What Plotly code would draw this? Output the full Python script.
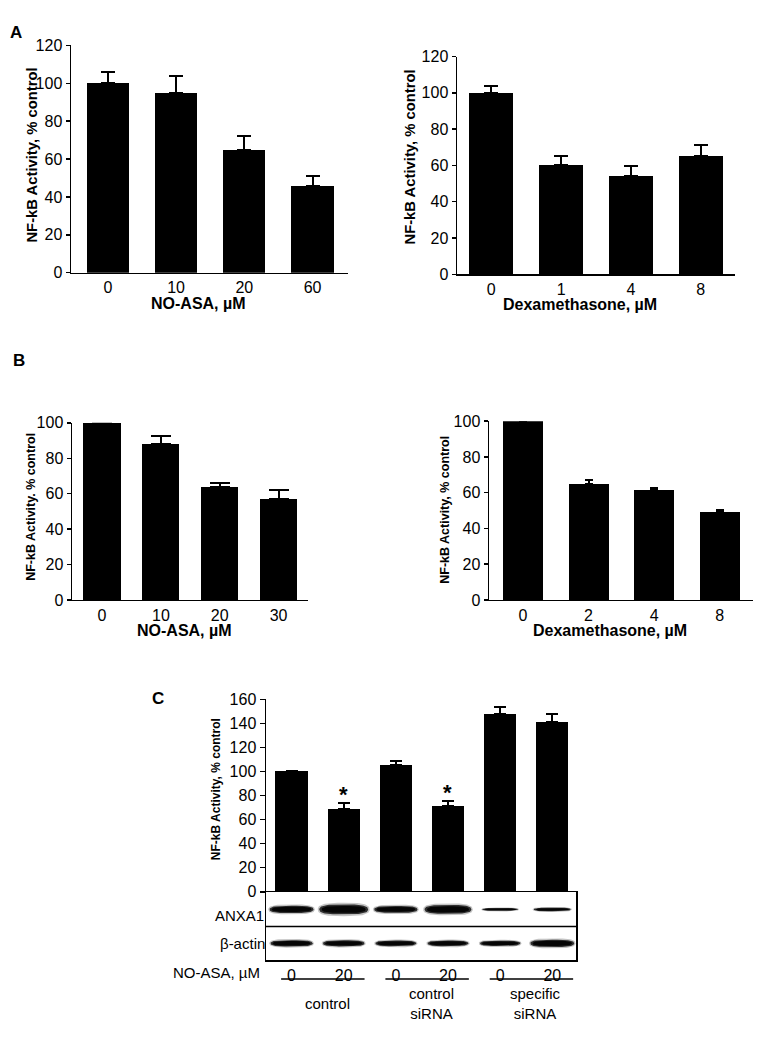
import plotly.graph_objects as go
import math

W, H = 774, 1050
FONT = "Arial, Liberation Sans, sans-serif"

# ---------------- data ----------------
a1_cats = ["0", "10", "20", "60"]
a1_vals = [100, 95, 65, 46]
a1_err = [6, 9, 7, 5]

a2_cats = ["0", "1", "4", "8"]
a2_vals = [100, 60, 54, 65]
a2_err = [4, 5, 5.5, 6.5]

b1_cats = ["0", "10", "20", "30"]
b1_vals = [100, 88, 64, 57]
b1_err = [0, 4.5, 2, 5]

b2_cats = ["0", "2", "4", "8"]
b2_vals = [100, 65, 61.5, 49]
b2_err = [0, 2, 1, 1.5]

c_doses = ["0", "20", "0", "20", "0", "20"]
c_vals = [100, 69, 105, 71, 148, 141]
c_err = [0, 5, 4, 4.5, 6, 7]
c_sig = [False, True, False, True, False, False]
c_groups = ["control", "control<br>siRNA", "specific<br>siRNA"]

# relative band signal in the western blot
anxa1_signal = [1.0, 1.35, 0.95, 1.2, 0.4, 0.5]
actin_signal = [1.0, 0.95, 0.9, 0.9, 0.85, 1.15]


def px(x):
    return x / W


def py(y):
    return 1 - y / H


fig = go.Figure()

panels = [
    dict(i=1, cats=a1_cats, vals=a1_vals, err=a1_err, l=71, r=348, y0=269, yt=38, ymax=120,
         xr=[-0.54, 3.52], bw=0.62, cap=7, yt_text="NF-kB Activity, % control", ytp=(32, 150),
         xt_text="NO-ASA, µM", xtp=(198, 300), ysz=14.8),
    dict(i=2, cats=a2_cats, vals=a2_vals, err=a2_err, l=457, r=735, y0=270.7, yt=49.3, ymax=120,
         xr=[-0.49, 3.49], bw=0.63, cap=7, yt_text="NF-kB Activity, % control", ytp=(410, 152),
         xt_text="Dexamethasone, µM", xtp=(580, 301), ysz=14.8),
    dict(i=3, cats=b1_cats, vals=b1_vals, err=b1_err, l=72, r=308, y0=601.7, yt=421.7, ymax=100,
         xr=[-0.51, 3.5], bw=0.63, cap=10, yt_text="NF-kB Activity. % control", ytp=(31, 507),
         xt_text="NO-ASA, µM", xtp=(184, 633), ysz=12.5),
    dict(i=4, cats=b2_cats, vals=b2_vals, err=b2_err, l=489, r=753, y0=601.7, yt=420, ymax=100,
         xr=[-0.52, 3.51], bw=0.61, cap=4, yt_text="NF-kB Activity, % control", ytp=(445, 510),
         xt_text="Dexamethasone, µM", xtp=(610, 633), ysz=12.5),
]

annotations = []
shapes = []

for p in panels:
    i = p["i"]
    xa = "x" if i == 1 else f"x{i}"
    ya = "y" if i == 1 else f"y{i}"
    n = len(p["cats"])
    fig.add_trace(go.Bar(
        x=list(range(n)), y=p["vals"], width=p["bw"], xaxis=xa, yaxis=ya,
        marker=dict(color="black", line=dict(width=0)),
        error_y=dict(type="data", symmetric=False, array=p["err"], arrayminus=[0] * n,
                     color="black", thickness=2, width=p["cap"]),
        hoverinfo="skip"))
    key = "" if i == 1 else str(i)
    fig.layout["xaxis" + key] = dict(
        domain=[px(p["l"]), px(p["r"])], range=p["xr"], anchor=ya,
        tickvals=list(range(n)), ticktext=p["cats"], ticks="", showline=True,
        linecolor="black", linewidth=1.5, showgrid=False, zeroline=False,
        tickfont=dict(family=FONT, size=16, color="black"), fixedrange=True)
    fig.layout["yaxis" + key] = dict(
        domain=[py(p["y0"]), py(p["yt"])], range=[0, p["ymax"]], anchor=xa,
        dtick=20, ticks="outside", ticklen=4, tickwidth=1.5, tickcolor="black",
        showline=True, linecolor="black", linewidth=1.5, showgrid=False, zeroline=False,
        tickfont=dict(family=FONT, size=16, color="black"), fixedrange=True)
    annotations.append(dict(
        text=p["yt_text"], x=px(p["ytp"][0]), y=py(p["ytp"][1]), xref="paper", yref="paper",
        textangle=-90, showarrow=False, xanchor="center", yanchor="middle",
        font=dict(family=FONT, size=p["ysz"], color="black", weight="bold")))
    annotations.append(dict(
        text=p["xt_text"], x=px(p["xtp"][0]), y=py(p["xtp"][1]), xref="paper", yref="paper",
        showarrow=False, xanchor="center", yanchor="middle",
        font=dict(family=FONT, size=16, color="black", weight="bold")))

# ---------------- panel C ----------------
C_L, C_R = 266, 576
C_XR = [-0.49, 5.455]
nC = len(c_vals)
fig.add_trace(go.Bar(
    x=list(range(nC)), y=c_vals, width=0.62, xaxis="x5", yaxis="y5",
    marker=dict(color="black", line=dict(width=0)),
    error_y=dict(type="data", symmetric=False, array=c_err, arrayminus=[0] * nC,
                 color="black", thickness=2, width=6),
    hoverinfo="skip"))
fig.layout["xaxis5"] = dict(domain=[px(C_L), px(C_R)], range=C_XR, anchor="y5",
                            showline=False, showticklabels=False, ticks="", showgrid=False,
                            zeroline=False, fixedrange=True)
fig.layout["yaxis5"] = dict(domain=[py(898.3), py(702.7)], range=[0, 160], anchor="x5",
                            dtick=20, ticks="outside", ticklen=5, tickwidth=1.5, tickcolor="black",
                            showline=True, linecolor="black", linewidth=1.5, showgrid=False,
                            zeroline=False, tickfont=dict(family=FONT, size=16, color="black"),
                            fixedrange=True)
annotations.append(dict(
    text="NF-kB Activity, % control", x=px(216), y=py(794), xref="paper", yref="paper",
    textangle=-90, showarrow=False, xanchor="center", yanchor="middle",
    font=dict(family=FONT, size=12, color="black", weight="bold")))

for k in range(nC):
    if c_sig[k]:
        annotations.append(dict(
            text="*", x=k, y=c_vals[k] + c_err[k], xref="x5", yref="y5", showarrow=False,
            xanchor="center", yanchor="bottom", yshift=-6,
            font=dict(family=FONT, size=22, color="black", weight="bold")))

# ---------------- western blot ----------------
fig.layout["xaxis6"] = dict(domain=[px(C_L), px(C_R)], range=C_XR, anchor="y6",
                            tickvals=list(range(nC)), ticktext=c_doses, ticks="",
                            showline=True, mirror=True, linecolor="black", linewidth=1.5,
                            showgrid=False, zeroline=False,
                            tickfont=dict(family=FONT, size=16, color="black"), fixedrange=True)
fig.layout["yaxis6"] = dict(domain=[py(968), py(899)], range=[0, 2], anchor="x6",
                            showline=True, mirror=True, linecolor="black", linewidth=1.5,
                            showticklabels=False, ticks="", showgrid=False, zeroline=False,
                            fixedrange=True)
shapes.append(dict(type="line", xref="x6 domain", yref="y6", x0=0, x1=1, y0=1, y1=1,
                   line=dict(color="black", width=1.5)))

UNIT_X = (C_R - C_L) / (C_XR[1] - C_XR[0])  # px per x unit
UNIT_Y = (968 - 899) / 2.0                    # px per y unit


def add_band(xc, yc, signal, thick_k, len_base, len_k):
    thick = thick_k * signal / UNIT_Y
    length = (len_base + len_k * signal) / UNIT_X
    layers = [(1.35, 1.06, "rgba(90,90,90,0.35)"),
              (1.0, 1.0, "rgba(20,20,20,0.85)"),
              (0.7, 0.9, "#050505")]
    for tf, lf, col in layers:
        xs, ys = [], []
        for s in range(0, 73):
            t = 2 * math.pi * s / 72
            c, sn = math.cos(t), math.sin(t)
            xs.append(xc + lf * length / 2 * math.copysign(abs(c) ** 0.6, c))
            ys.append(yc + tf * thick / 2 * math.copysign(abs(sn) ** 0.8, sn))
        fig.add_trace(go.Scatter(
            x=xs, y=ys, mode="lines", fill="toself", fillcolor=col,
            xaxis="x6", yaxis="y6", line=dict(width=0, color=col), hoverinfo="skip"))


for k in range(nC):
    add_band(k, 1.5, anxa1_signal[k], 7.5, 30, 14)
    add_band(k, 0.5, actin_signal[k], 6.5, 30, 12)

annotations.append(dict(text="ANXA1", x=px(266), y=py(922), xref="paper", yref="paper",
                        showarrow=False, xanchor="right", yanchor="middle",
                        font=dict(family=FONT, size=15, color="black")))
annotations.append(dict(text="β-actin", x=px(267), y=py(951), xref="paper", yref="paper",
                        showarrow=False, xanchor="right", yanchor="middle",
                        font=dict(family=FONT, size=15, color="black")))
annotations.append(dict(text="NO-ASA, µM", x=px(262), y=py(980), xref="paper", yref="paper",
                        showarrow=False, xanchor="right", yanchor="middle",
                        font=dict(family=FONT, size=15, color="black")))

for g, name in enumerate(c_groups):
    shapes.append(dict(type="line", xref="x6", yref="paper", x0=2 * g - 0.2, x1=2 * g + 1.4,
                       y0=py(987), y1=py(987), line=dict(color="black", width=1.5)))
    annotations.append(dict(text=name, x=2 * g + 0.68, y=py(1012), xref="x6", yref="paper",
                            showarrow=False, xanchor="center", yanchor="middle",
                            font=dict(family=FONT, size=15, color="black")))

# panel letters
for lab, (lx, ly) in {"A": (16, 25), "B": (19, 358), "C": (158, 702)}.items():
    annotations.append(dict(text=lab, x=px(lx), y=py(ly), xref="paper", yref="paper",
                            showarrow=False, xanchor="center", yanchor="middle",
                            font=dict(family=FONT, size=17, color="black", weight="bold")))

fig.update_layout(width=W, height=H, margin=dict(l=0, r=0, t=0, b=0),
                  paper_bgcolor="white", plot_bgcolor="white", showlegend=False,
                  annotations=annotations, shapes=shapes, bargap=0)

fig.write_html(
    "out.html",
    config={"displayModeBar": False, "staticPlot": True},
    post_script=("document.documentElement.style.margin='0px';"
                 "document.body.style.margin='0px';"
                 "document.documentElement.style.overflow='hidden';"
                 "document.body.style.overflow='hidden';"),
)
